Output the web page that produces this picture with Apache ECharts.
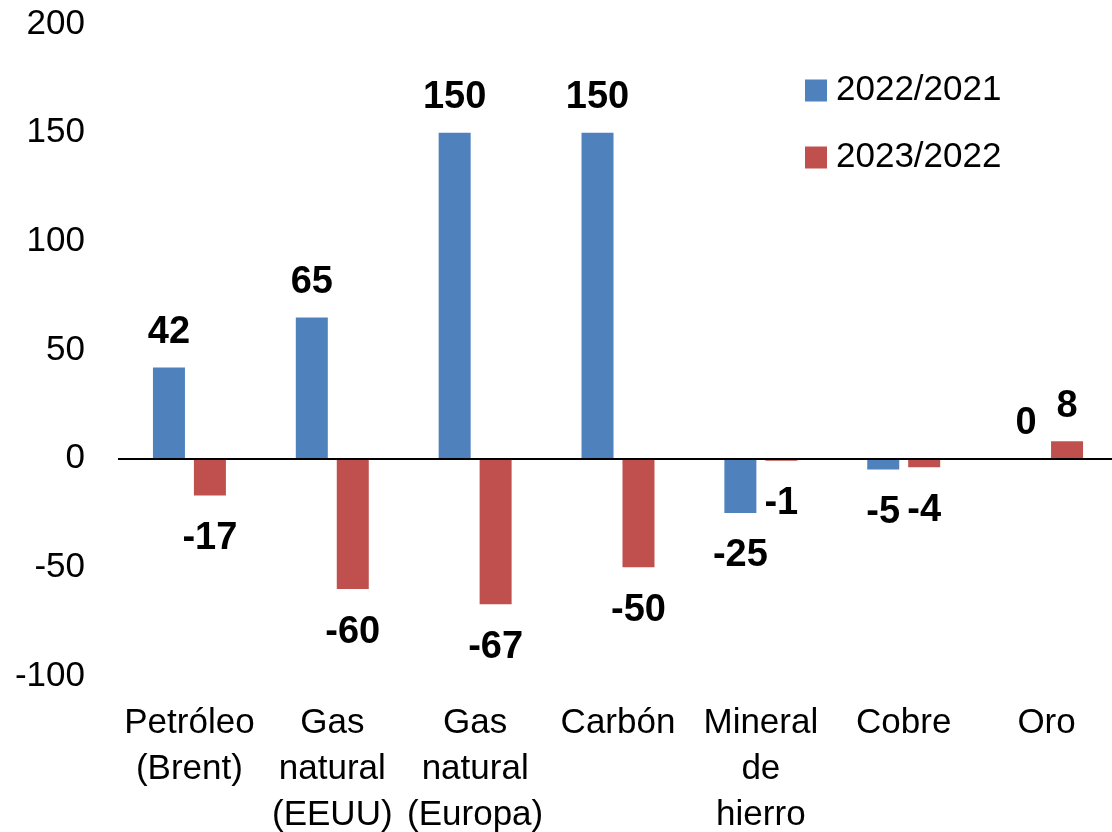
<!DOCTYPE html>
<html><head><meta charset="utf-8">
<script src="https://cdn.jsdelivr.net/npm/echarts@6/dist/echarts.min.js"></script>
<style>html,body{margin:0;padding:0;background:#fff}#c{width:1112px;height:832px}</style>
</head><body><div id="c"></div>
<script>
const categories = ['Petróleo\n(Brent)', 'Gas\nnatural\n(EEUU)', 'Gas\nnatural\n(Europa)', 'Carbón', 'Mineral\nde\nhierro', 'Cobre', 'Oro'];
const series2022 = [42, 65, 150, 150, -25, -5, 0];
const series2023 = [-17, -60, -67, -50, -1, -4, 8];
const seriesNames = ['2022/2021', '2023/2022'];
const yTicks = { min: -100, max: 200, interval: 50 };

const FONT = 'Liberation Sans, Arial, sans-serif';
function items(arr) {
  return arr.map(v => ({ value: v, label: v < 0 ? { position: 'bottom', distance: 24 } : { position: 'top', distance: 16 } }));
}
const labelStyle = { show: true, fontFamily: FONT, fontWeight: 'bold', fontSize: 38, color: '#000' };

const chart = echarts.init(document.getElementById('c'), null, { renderer: 'canvas' });
chart.setOption({
  animation: false,
  backgroundColor: '#fff',
  legend: {
    orient: 'vertical', left: 805, top: 73, padding: 0,
    itemWidth: 22, itemHeight: 22, itemGap: 32, icon: 'rect',
    textStyle: { fontFamily: FONT, fontSize: 35, color: '#000', padding: [0, 0, 0, 4] },
    data: seriesNames
  },
  grid: { left: 118, top: 24, width: 1000, height: 652, containLabel: false, outerBoundsMode: 'none' },
  xAxis: {
    type: 'category', data: categories,
    axisLine: { show: false, onZero: false }, axisTick: { show: false },
    axisLabel: { interval: 0, fontFamily: FONT, fontSize: 35, color: '#000', lineHeight: 46, margin: 24 }
  },
  yAxis: {
    type: 'value', min: yTicks.min, max: yTicks.max, interval: yTicks.interval,
    axisLine: { show: false }, axisTick: { show: false }, splitLine: { show: false },
    axisLabel: { fontFamily: FONT, fontSize: 35, color: '#000', margin: 33 }
  },
  series: [
    {
      name: seriesNames[0], type: 'bar', data: items(series2022), barWidth: 32, barGap: '28%',
      itemStyle: { color: '#4F81BD' }, label: labelStyle,
      markLine: { silent: true, symbol: 'none', label: { show: false },
        lineStyle: { color: '#000', width: 2, type: 'solid' }, data: [{ yAxis: 0 }] }
    },
    {
      name: seriesNames[1], type: 'bar', data: items(series2023), barWidth: 32, barGap: '28%',
      itemStyle: { color: '#C0504D' }, label: labelStyle
    }
  ]
});
</script></body></html>
